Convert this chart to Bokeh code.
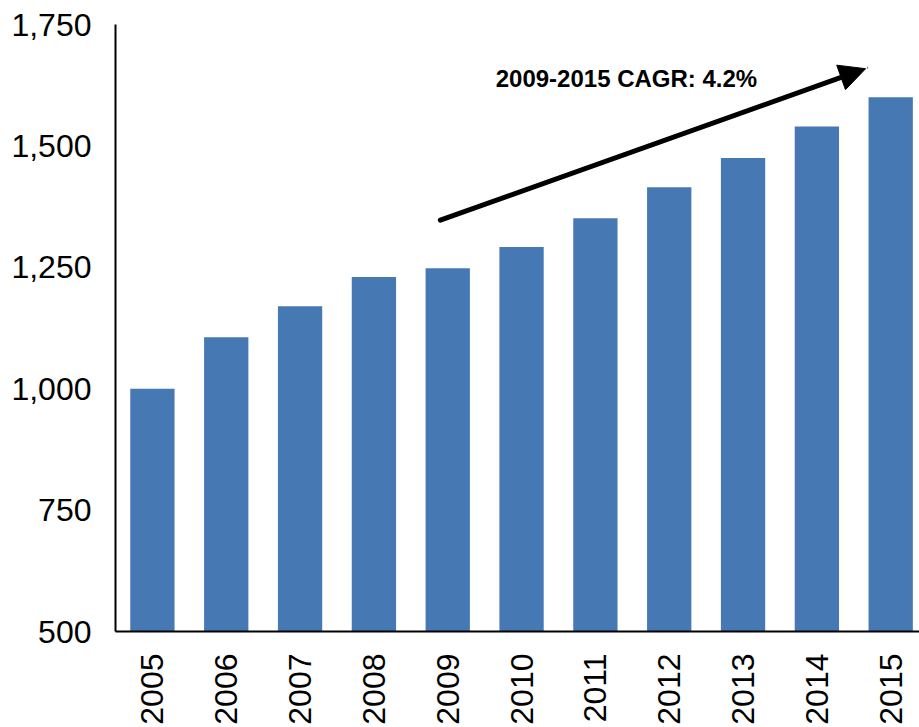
import math
from bokeh.plotting import figure
from bokeh.models import Range1d, FixedTicker, Arrow, NormalHead, Label, ColumnDataSource
from bokeh.embed import file_html
from bokeh.resources import INLINE

years = [2005, 2006, 2007, 2008, 2009, 2010, 2011, 2012, 2013, 2014, 2015]
values = [1000, 1106, 1170, 1230, 1248, 1292, 1351, 1415, 1475, 1540, 1600]
y_ticks = [500, 750, 1000, 1250, 1500, 1750]
y_labels = {500: "500", 750: "750", 1000: "1,000", 1250: "1,250", 1500: "1,500", 1750: "1,750"}
annotation_text = "2009-2015 CAGR: 4.2%"

FONT = "Liberation Sans"

p = figure(width=919, height=727, output_backend="svg", toolbar_location=None,
           x_range=Range1d(2004.5, 2015.39), y_range=Range1d(500, 1750),
           min_border_left=115, min_border_right=0, min_border_top=24, min_border_bottom=95)
p.outline_line_color = None
p.grid.visible = False
p.background_fill_color = "white"
p.border_fill_color = "white"

src = ColumnDataSource(dict(x=years, top=values))
p.vbar(x="x", top="top", bottom=500, width=0.6, source=src,
       fill_color="#4679b3", line_color=None)

# x axis
p.xaxis.ticker = FixedTicker(ticks=years)
p.xaxis.major_label_overrides = {y: str(y) for y in years}
p.xaxis.major_label_orientation = math.pi / 2
p.xaxis.major_tick_line_color = None
p.xaxis.minor_tick_line_color = None
p.xaxis.major_label_standoff = 16
p.xaxis.major_label_text_font = FONT
p.xaxis.major_label_text_font_size = "32px"
p.xaxis.major_label_text_color = "black"
p.xaxis.axis_line_color = "black"
p.xaxis.axis_line_width = 2

# y axis
p.yaxis.ticker = FixedTicker(ticks=y_ticks)
p.yaxis.major_label_overrides = y_labels
p.yaxis.major_tick_line_color = None
p.yaxis.minor_tick_line_color = None
p.yaxis.major_label_standoff = 18
p.yaxis.major_label_text_font = FONT
p.yaxis.major_label_text_font_size = "32px"
p.yaxis.major_label_text_color = "black"
p.yaxis.axis_line_color = "black"
p.yaxis.axis_line_width = 2

# CAGR arrow and label (annotation)
p.add_layout(Arrow(x_start=2008.9, y_start=1347, x_end=2014.66, y_end=1659,
                   line_width=5, line_color="black", line_cap="round",
                   end=NormalHead(size=26, fill_color="black", line_color="black")))
p.add_layout(Label(x=2009.65, y=1639,
                   text=annotation_text, text_font=FONT, text_font_size="24px",
                   text_font_style="bold", text_color="black", text_baseline="alphabetic"))

open("out.html", "w").write(file_html(p, INLINE))
